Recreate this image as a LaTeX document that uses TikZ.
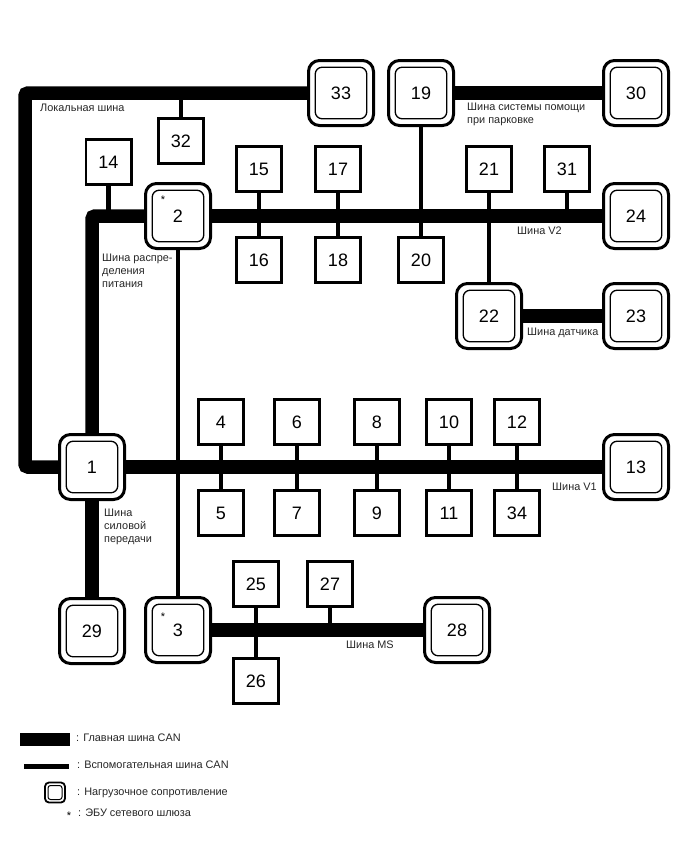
\documentclass[tikz,border=0pt]{standalone}
\usepackage{fontspec}
\setmainfont{Liberation Sans}
\usetikzlibrary{backgrounds}
\tikzset{
  x=1pt,y=-1pt,
  ecu/.style={draw=black,fill=white,line width=2.6pt,minimum size=45.4pt,inner sep=0pt,font=\fontsize{18}{18}\selectfont},
  term/.style={draw=black,fill=white,line width=3pt,minimum size=65pt,inner sep=0pt,rounded corners=11pt,font=\fontsize{18}{18}\selectfont},
  innerframe/.style={line width=1.3pt,rounded corners=7pt},
  mainbus/.style={line width=13.5pt,rounded corners=3pt},
  subbus/.style={line width=4.6pt},
  lbl/.style={anchor=west,inner sep=0pt,font=\fontsize{10.9}{13}\selectfont,align=left,text=black!85},
  starmark/.style={inner sep=0pt,font=\fontsize{11}{11}\selectfont},
}
\begin{document}
\begin{tikzpicture}
\useasboundingbox (0,0) rectangle (688,852);
% terminated control units
\foreach \n/\x/\y/\t in {n33/341/93/33,n19/421/93/19,n30/636/93/30,n24/636/216/24,n22/489/316/22,n23/636/316/23,n1/92/467/1,n13/636/467/13,n29/92/631/29,n28/457/630/28,n2/178/216/2,n3/178/630/3}
  \node[term] (\n) at (\x,\y) {\t};
\foreach \n in {n33,n19,n30,n24,n22,n23,n1,n13,n29,n28,n2,n3}
  \draw[innerframe] ([shift={(8.2,8.2)}]\n.north west) rectangle ([shift={(-8.2,-8.2)}]\n.south east);
\node[starmark] (s2) at (163,200) {*};
\node[starmark] (s3) at (163,617) {*};
% plain control units
\foreach \n/\x/\y in {32/181/141,14/108.5/162,15/259/169,16/259/260,17/338/169,18/338/260,20/421/260,21/489/169,31/567/169,4/221/422,5/221/513,6/297/422,7/297/513,8/377/422,9/377/513,10/449/422,11/449/513,12/517/422,34/517/513,25/256/584,26/256/681,27/330/584}
  \node[ecu] (n\n) at (\x,\y) {\n};
% bus corners
\coordinate (lcA) at (25,93);
\coordinate (lcB) at (25,467);
\coordinate (pdA) at (92,216);
\begin{scope}[on background layer]
  \draw[mainbus] (n33) -- (lcA) -- (lcB) -- (n1);
  \draw[mainbus] (n1) -- (pdA) -- (n2);
  \draw[mainbus] (n2) -- (n24);
  \draw[mainbus] (n1) -- (n13);
  \draw[mainbus] (n1) -- (n29);
  \draw[mainbus] (n19) -- (n30);
  \draw[mainbus] (n22) -- (n23);
  \draw[mainbus] (n3) -- (n28);
  \draw[subbus] (n32) -- (n32 |- lcA);
  \draw[subbus] (n14) -- (n14 |- pdA);
  \draw[subbus] (n2) -- (n3);
  \foreach \a/\b in {15/16,17/18,19/20,21/22,4/5,6/7,8/9,10/11,12/34,25/26}
    \draw[subbus] (n\a) -- (n\b);
  \draw[subbus] (n31) -- (n31 |- n24);
  \draw[subbus] (n27) -- (n27 |- n28);
\end{scope}
% bus names
\node[lbl] (lLocal) at (40,108) {Локальная шина};
\node[lbl] (lPark) at (467,114.5) {Шина системы помощи\\при парковке};
\node[lbl] (lPower) at (102,271) {Шина распре-\\деления\\питания};
\node[lbl] (lV2) at (517,231) {Шина V2};
\node[lbl] (lSens) at (527,333) {Шина датчика};
\node[lbl] (lV1) at (552,487) {Шина V1};
\node[lbl] (lDrive) at (104,527) {Шина\\силовой\\передачи};
\node[lbl] (lMS) at (346,645) {Шина MS};
% key
\coordinate (kA) at (20,739.5);
\coordinate (kB) at (70,739.5);
\coordinate (kC) at (24,766.5);
\coordinate (kD) at (69,766.5);
\draw[line width=13pt] (kA) -- (kB);
\draw[subbus] (kC) -- (kD);
\node[draw,line width=1.8pt,rounded corners=4pt,minimum size=20pt,inner sep=0pt] (kTerm) at (55,792.5) {};
\node[draw,line width=1pt,rounded corners=2.5pt,minimum size=14pt,inner sep=0pt] (kTermIn) at (55,792.5) {};
\node[starmark] (kStar) at (69,816) {*};
\node[lbl] (k1) at (76,738) {: Главная шина CAN};
\node[lbl] (k2) at (77,765) {: Вспомогательная шина CAN};
\node[lbl] (k3) at (77,793) {: Нагрузочное сопротивление};
\node[lbl] (k4) at (78,813) {: ЭБУ сетевого шлюза};
\end{tikzpicture}
\end{document}
